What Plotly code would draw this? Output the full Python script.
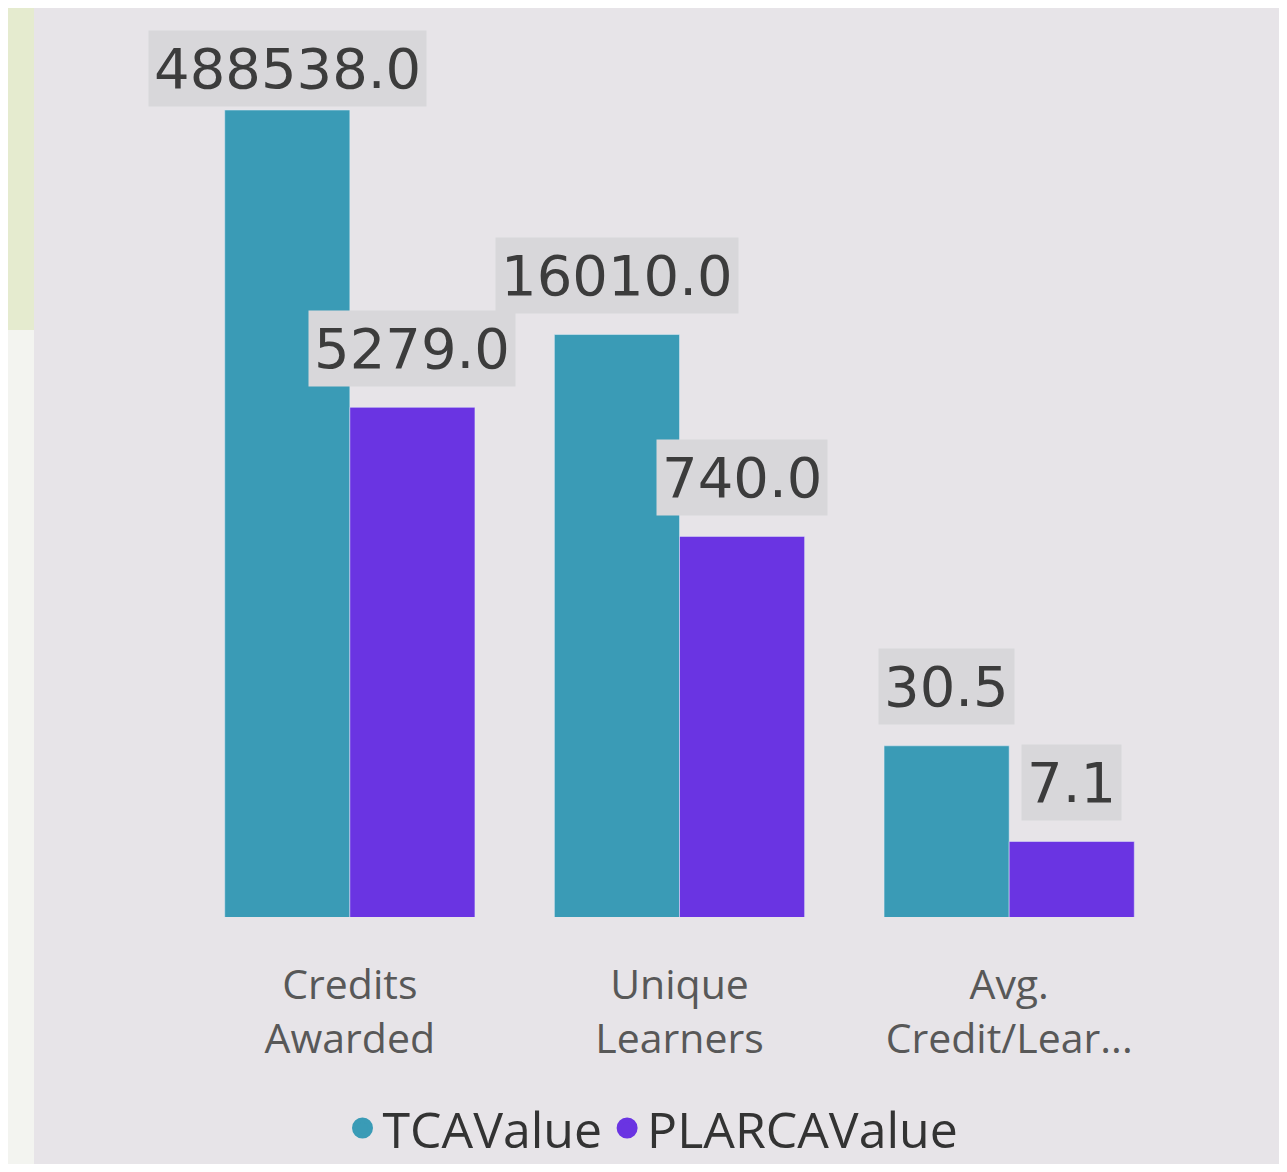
import numpy as np
import plotly.graph_objects as go

categories = ["Credits<br>Awarded", "Unique<br>Learners", "Avg.<br>Credit/Lear..."]
tca_values = [488538.0, 16010.0, 30.5]
plarca_values = [5279.0, 740.0, 7.1]
series_names = ["TCAValue", "PLARCAValue"]

TCA_COLOR = "#3a9bb6"
PLAR_COLOR = "#6a34e2"
PANEL = "#e7e4e8"

# page body adds an 8px margin; size the figure so it fits the window exactly
W, H = 1271, 1156
ML, MR, MT, MB = 177, 105, 52, 247
PW, PH = W - ML - MR, H - MT - MB

fig = go.Figure()
fig.add_bar(x=categories, y=tca_values, name=series_names[0],
            marker_color=TCA_COLOR, showlegend=False)
fig.add_bar(x=categories, y=plarca_values, name=series_names[1],
            marker_color=PLAR_COLOR, showlegend=False)

# legend entries with round markers (as in the original)
for nm, col in zip(series_names, [TCA_COLOR, PLAR_COLOR]):
    fig.add_scatter(x=[None], y=[None], mode="markers", name=nm,
                    marker=dict(size=16, color=col, symbol="circle",
                                line=dict(color=col, width=5)))

bargap = 0.241
half = (1 - bargap) / 4.0
top_value = max(tca_values + plarca_values)
annotations = []
for i, (a, b) in enumerate(zip(tca_values, plarca_values)):
    for off, v in [(-half, a), (half, b)]:
        annotations.append(dict(
            x=i + off, y=np.log10(v), xref="x", yref="y",
            text=f"{v:.1f}", showarrow=False, yanchor="middle",
            yshift=42 if v == top_value else 59,
            font=dict(family="DejaVu Sans", size=56, color="#3c3c3c"),
            bgcolor="#d8d7da", borderpad=5,
        ))

def py(p):  # figure pixel row -> paper y
    return (MT + PH - p) / PH

def px(p):  # figure pixel column -> paper x
    return (p - ML) / PW

shapes = [
    dict(type="rect", xref="paper", yref="paper", layer="below",
         x0=px(0), x1=px(26), y0=py(322), y1=py(0),
         fillcolor="#e5ebcf", line=dict(width=0)),
    dict(type="rect", xref="paper", yref="paper", layer="below",
         x0=px(0), x1=px(26), y0=py(H), y1=py(322),
         fillcolor="#f3f4f0", line=dict(width=0)),
]

fig.update_layout(
    width=W, height=H,
    margin=dict(l=ML, r=MR, t=MT, b=MB, autoexpand=False),
    paper_bgcolor=PANEL, plot_bgcolor=PANEL,
    barmode="group", bargap=bargap, bargroupgap=0,
    annotations=annotations, shapes=shapes,
    showlegend=True,
    legend=dict(orientation="h", x=px(645), xanchor="center",
                y=py(1120), yanchor="middle",
                font=dict(family="Open Sans", size=50, color="#333333"),
                bgcolor="rgba(0,0,0,0)", itemwidth=30),
    xaxis=dict(range=[-0.5, 2.5], autorange=False, automargin=False,
               showgrid=False, zeroline=False, showline=False,
               ticks="outside", ticklen=32, tickcolor="rgba(0,0,0,0)",
               tickfont=dict(family="Open Sans", size=41, color="#585858")),
    yaxis=dict(type="log", range=[0.352, 0.352 + PH / 151.2], automargin=False,
               showgrid=False, zeroline=False, showline=False,
               showticklabels=False, ticks=""),
)

fig.write_html("out.html")
